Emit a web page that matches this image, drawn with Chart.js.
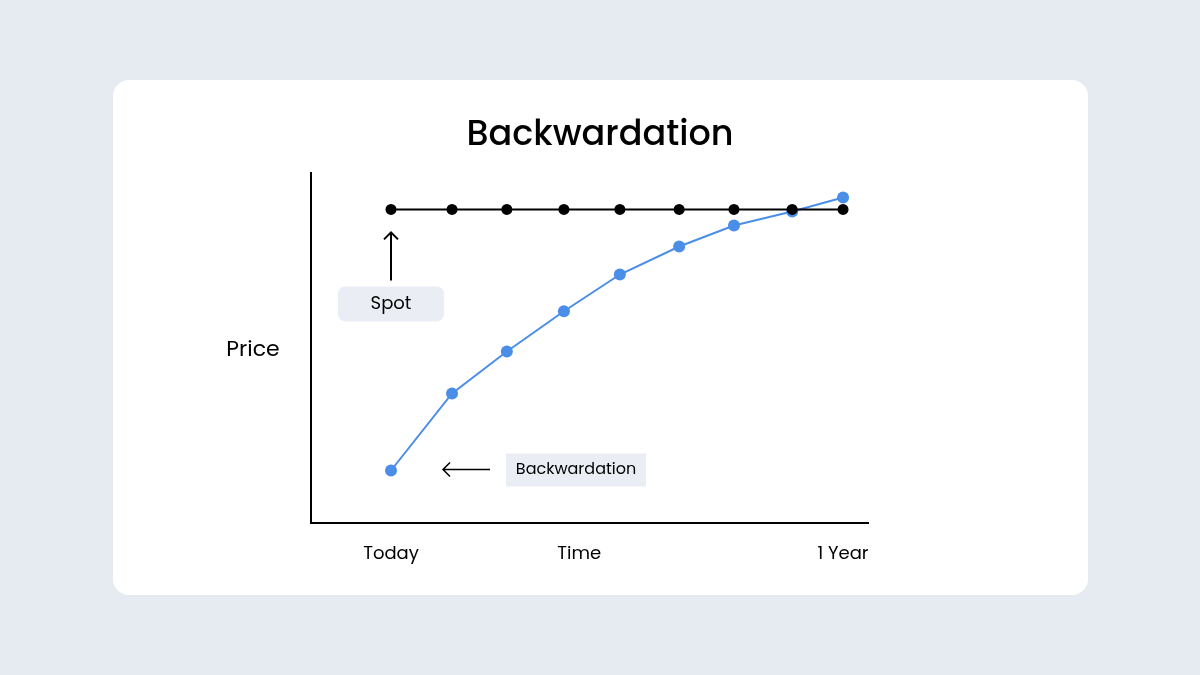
<!DOCTYPE html>
<html lang="en">
<head>
  <meta charset="UTF-8">
  <title>Backwardation</title>
  <script src="https://cdn.jsdelivr.net/npm/chart.js@4"></script>
  <style>
    html, body {
      margin: 0;
      padding: 0;
      background-color: #e6eaf1;
      width: 1200px;
      height: 675px;
      overflow: hidden;
    }
    #card {
      position: absolute;
      left: 113px;
      top: 80px;
      width: 975px;
      height: 515px;
      background-color: #fff;
      border-radius: 16px;
    }
    #chart {
      position: absolute;
      left: 0;
      top: 0;
    }
  </style>
</head>
<body>
  <div id="card"></div>
  <canvas id="chart" width="1200" height="675"></canvas>

  <script>
    // time positions (0 = today, 8 = one year) and prices
    const timePoints = [0, 1.08, 2.05, 3.06, 4.05, 5.1, 6.07, 7.1, 8];
    const spotPrice = [89.6, 89.6, 89.6, 89.6, 89.6, 89.6, 89.6, 89.6, 89.6];
    const futuresPrice = [15, 37, 49, 60.5, 71, 79, 85, 89, 93];
    const xLabels = [
      { x: 0, text: "Today" },
      { x: 3.33, text: "Time" },
      { x: 8, text: "1 Year" },
    ];

    const FONT = "Poppins, Inter, 'Open Sans', sans-serif";

    function roundRect(ctx, x, y, w, h, r) {
      ctx.beginPath();
      ctx.moveTo(x + r, y);
      ctx.arcTo(x + w, y, x + w, y + h, r);
      ctx.arcTo(x + w, y + h, x, y + h, r);
      ctx.arcTo(x, y + h, x, y, r);
      ctx.arcTo(x, y, x + w, y, r);
      ctx.closePath();
    }

    // title, axis texts and the two call-outs
    const extras = {
      id: "extras",
      afterDraw(chart) {
        const { ctx, chartArea, scales } = chart;
        const xs = scales.x, ys = scales.y;
        ctx.save();
        ctx.fillStyle = "#000";
        ctx.textAlign = "center";
        ctx.textBaseline = "middle";

        ctx.font = "500 35px " + FONT;
        ctx.fillText("Backwardation", 600, 136);

        ctx.font = "22px " + FONT;
        ctx.fillText("Price", 253, (chartArea.top + chartArea.bottom) / 2 + 2);

        ctx.font = "18px " + FONT;
        xLabels.forEach((l) => {
          ctx.fillText(l.text, xs.getPixelForValue(l.x), chartArea.bottom + 31);
        });

        // Spot call-out
        const sx = xs.getPixelForValue(timePoints[0]);
        const sy = ys.getPixelForValue(spotPrice[0]);
        ctx.fillStyle = "#eaeef4";
        roundRect(ctx, sx - 53, sy + 77, 106, 35, 7);
        ctx.fill();
        ctx.fillStyle = "#000";
        ctx.font = "18px " + FONT;
        ctx.fillText("Spot", sx, sy + 95);
        ctx.strokeStyle = "#000";
        ctx.lineWidth = 2;
        ctx.beginPath();
        ctx.moveTo(sx, sy + 71);
        ctx.lineTo(sx, sy + 23);
        ctx.moveTo(sx - 7, sy + 30);
        ctx.lineTo(sx, sy + 23);
        ctx.lineTo(sx + 7, sy + 30);
        ctx.stroke();

        // Backwardation call-out
        const bx = xs.getPixelForValue(timePoints[0]);
        const by = ys.getPixelForValue(futuresPrice[0]);
        ctx.fillStyle = "#eaeef4";
        ctx.fillRect(bx + 115, by - 17, 140, 33);
        ctx.fillStyle = "#000";
        ctx.font = "16px " + FONT;
        ctx.fillText("Backwardation", bx + 185, by - 1);
        ctx.lineWidth = 1.5;
        ctx.beginPath();
        ctx.moveTo(bx + 99, by - 1);
        ctx.lineTo(bx + 52, by - 1);
        ctx.moveTo(bx + 59, by - 8);
        ctx.lineTo(bx + 52, by - 1);
        ctx.lineTo(bx + 59, by + 6);
        ctx.stroke();

        ctx.restore();
      },
    };

    const ctx = document.getElementById("chart").getContext("2d");
    new Chart(ctx, {
      type: "line",
      data: {
        datasets: [
          {
            label: "Futures",
            data: timePoints.map((t, i) => ({ x: t, y: futuresPrice[i] })),
            borderColor: "#4a8ee8",
            backgroundColor: "#4a8ee8",
            borderWidth: 2,
            pointRadius: 6,
            pointBorderWidth: 0,
            tension: 0,
            order: 2,
          },
          {
            label: "Spot",
            data: timePoints.map((t, i) => ({ x: t, y: spotPrice[i] })),
            borderColor: "#000",
            backgroundColor: "#000",
            borderWidth: 2,
            pointRadius: 5.5,
            pointBorderWidth: 0,
            tension: 0,
            order: 1,
          },
        ],
      },
      options: {
        responsive: false,
        animation: false,
        devicePixelRatio: 1,
        layout: { padding: { left: 311, right: 332, top: 173, bottom: 152 } },
        plugins: {
          legend: { display: false },
          tooltip: { enabled: false },
        },
        scales: {
          x: {
            type: "linear",
            min: -1.416,
            max: 8.442,
            grid: { display: false, drawTicks: false },
            ticks: { display: false },
            border: { color: "#000", width: 2 },
          },
          y: {
            min: 0,
            max: 100,
            grid: { display: false, drawTicks: false },
            ticks: { display: false },
            border: { color: "#000", width: 2 },
          },
        },
      },
      plugins: [extras],
    });
  </script>
</body>
</html>
